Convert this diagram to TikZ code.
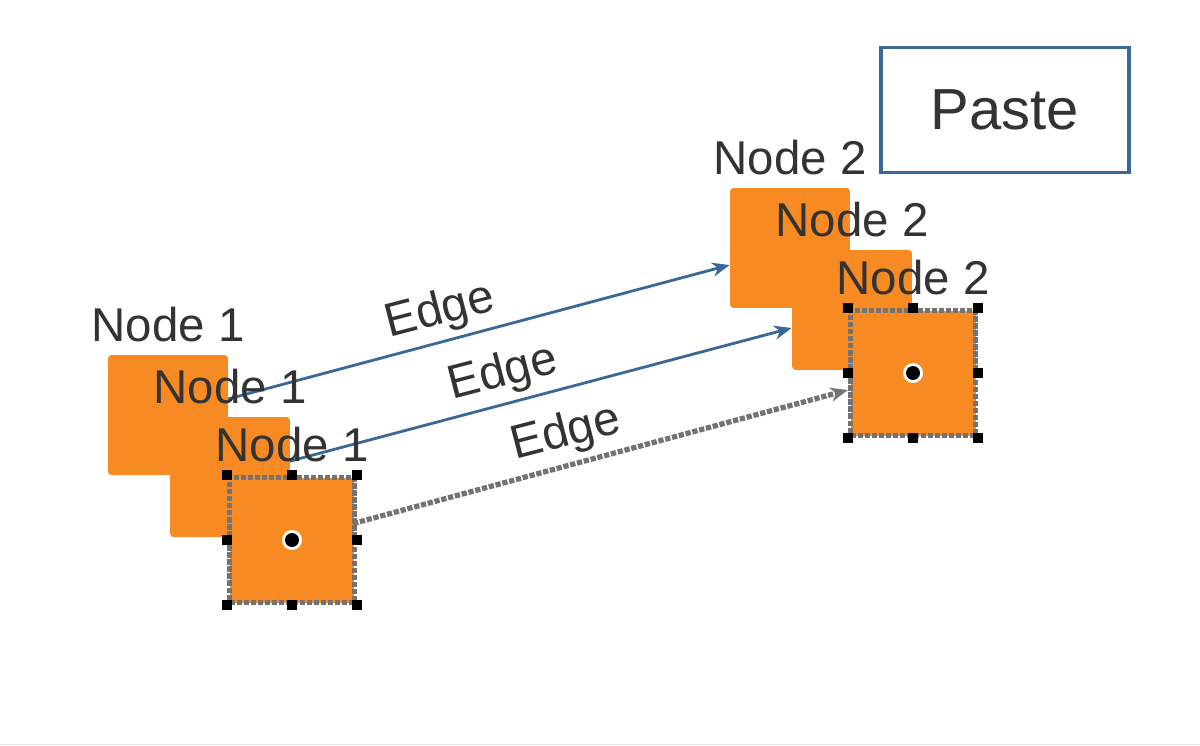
\documentclass[tikz,border=0pt]{standalone}
\usepackage{fontspec}
\setmainfont{Liberation Sans}
\usetikzlibrary{arrows.meta}
\usetikzlibrary{positioning}
\usetikzlibrary{backgrounds}
\definecolor{nodeorange}{HTML}{F78A22}
\definecolor{edgeblue}{HTML}{3A6898}
\definecolor{txt}{HTML}{333333}
\begin{document}
\begin{tikzpicture}[x=0.02cm,y=-0.02cm,
      box/.style={rectangle, rounded corners=2pt, fill=nodeorange, minimum size=2.4cm, inner sep=0pt},
      sel/.style={box, rounded corners=0pt, minimum size=2.5cm, draw=black!55, line width=3pt, densely dotted},
      lbl/.style={text=txt, font=\fontsize{27}{30}\selectfont, inner sep=0pt},
      handle/.style={fill=black, minimum size=0.2cm, inner sep=0pt},
      edge/.style={-{Stealth[length=10pt,width=8pt]}, edgeblue, line width=1.6pt},
      selEdge/.style={-{Stealth[length=10pt,width=8pt]}, black!55, line width=3pt, densely dotted}
      ]
      \useasboundingbox (0,0) rectangle (1200,745);
      \draw[black!10] (0,744) -- (1200,744);

      % Paste box
      \node[draw=edgeblue, line width=2.2pt, minimum width=4.95cm, minimum height=2.5cm,
            text=txt, font=\fontsize{33}{36}\selectfont] (paste) at (1005,110) {Paste};

      % Nodes
      \node[box] (n1a) at (168,415) {};
      \node[box] (n2a) at (790,248) {};
      \node[box] (n1b) at (230,477) {};
      \node[box] (n2b) at (852,310) {};
      \node[sel] (n1c) at (292,540) {};
      \node[sel] (n2c) at (913,373) {};

      % Edges
      \begin{scope}[on background layer]
        \draw[edge] (n1a.center) -- (n2a.west |- 0,265) coordinate (e1);
        \draw[edge] (n1b.center) -- (n2b.west |- 0,328) coordinate (e2);
        \draw[selEdge] (n1c.center) -- (n2c.west |- 0,390) coordinate (e3);
      \end{scope}

      % Labels
      \node[lbl, above=0.25cm of n1a] (l1a) {Node 1};
      \node[lbl, above=0.25cm of n1b] (l1b) {Node 1};
      \node[lbl, above=0.25cm of n1c] (l1c) {Node 1};
      \node[lbl, above=0.25cm of n2a] (l2a) {Node 2};
      \node[lbl, above=0.25cm of n2b] (l2b) {Node 2};
      \node[lbl, above=0.25cm of n2c] (l2c) {Node 2};
      \node[lbl, rotate=14.6] (ea) at (440,312) {Edge};
      \node[lbl, rotate=14.6] (eb) at (503,374) {Edge};
      \node[lbl, rotate=14.6] (ec) at (566,434) {Edge};

      % Selection handles
      \foreach \s in {n1c,n2c} {
        \foreach \a in {north west,north,north east,west,east,south west,south,south east}
          \node[handle] at (\s.\a) {};
        \fill[white] (\s.center) circle (0.2cm);
        \fill[black] (\s.center) circle (0.14cm);
      }
\end{tikzpicture}
\end{document}
